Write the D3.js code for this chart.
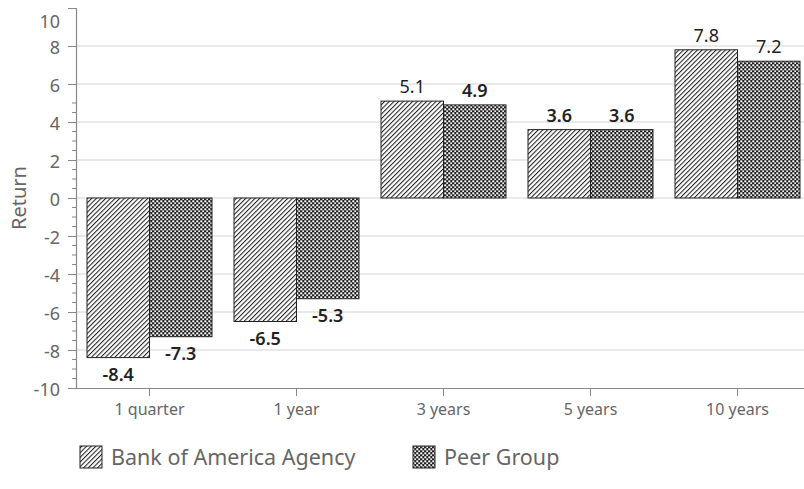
<!DOCTYPE html>
<html><head><meta charset="utf-8">
<script src="https://cdn.jsdelivr.net/npm/d3@7"></script>
<style>body{margin:0;background:#fff}svg{display:block}text{font-family:"Noto Sans",sans-serif}</style>
</head><body>
<svg id="c" width="804" height="489"></svg>
<script>
const categories = ["1 quarter","1 year","3 years","5 years","10 years"];
const seriesNames = ["Bank of America Agency","Peer Group"];
const bankValues = [-8.4,-6.5,5.1,3.6,7.8];
const peerValues = [-7.3,-5.3,4.9,3.6,7.2];
const yTicks = [-10,-8,-6,-4,-2,0,2,4,6,8,10];

(function(){
const svg = d3.select("#c");
const defs = svg.append("defs");
const hatch = defs.append("pattern").attr("id","hatch").attr("patternUnits","userSpaceOnUse")
  .attr("width",3.3).attr("height",3.3).attr("patternTransform","rotate(45)");
hatch.append("rect").attr("width",3.3).attr("height",3.3).attr("fill","#fff");
hatch.append("line").attr("x1",0.5).attr("y1",0).attr("x2",0.5).attr("y2",3.3).attr("stroke","#222").attr("stroke-width",1.1);
const check = defs.append("pattern").attr("id","check").attr("patternUnits","userSpaceOnUse")
  .attr("width",4).attr("height",4);
check.append("rect").attr("width",4).attr("height",4).attr("fill","#222");
check.append("rect").attr("x",0.3).attr("y",0.3).attr("width",2).attr("height",2).attr("fill","#fff");
check.append("rect").attr("x",2.3).attr("y",2.3).attr("width",1.8).attr("height",1.8).attr("fill","#eee");
const fills = ["url(#hatch)","url(#check)"];

const mLeft = 76, mTop = 8, mBottom = 388;
const x = d3.scaleBand().domain(categories).range([mLeft, mLeft + 5*147]).paddingInner(22/147).paddingOuter(11/147);
const xs = d3.scaleBand().domain(seriesNames).range([0, x.bandwidth()]);
const y = d3.scaleLinear().domain([-10,10]).range([mBottom, mTop]);

svg.append("g").selectAll("line").data(yTicks.filter(v => v > -10 && v < 10)).join("line")
  .attr("x1", mLeft).attr("x2", 804).attr("y1", d => y(d)).attr("y2", d => y(d))
  .attr("stroke","#d3d3d3").attr("stroke-width",1.2);

const minor = d3.range(-10, 5.01, 0.5).filter(v => Math.abs(v % 2) > 0.01);
svg.append("g").selectAll("line").data(minor).join("line")
  .attr("x1", mLeft-4).attr("x2", mLeft).attr("y1", d => y(d)).attr("y2", d => y(d))
  .attr("stroke","#888").attr("stroke-width",1);

const yAxis = svg.append("g").attr("transform",`translate(${mLeft},0)`)
  .call(d3.axisLeft(y).tickValues(yTicks).tickFormat(d => String(d)).tickSize(8).tickPadding(8));
yAxis.select(".domain").attr("stroke","#888").attr("stroke-width",1.2);
yAxis.selectAll(".tick line").attr("stroke","#888");
yAxis.selectAll(".tick text").attr("fill","#666").attr("font-size",18)
  .attr("font-family","'Noto Sans',sans-serif").attr("dy","0.42em");
yAxis.selectAll(".tick").filter(d => d === 10).select("text").attr("dy","1.1em");
yAxis.selectAll(".tick").filter(d => d === 10).select("line").remove();

const xAxis = svg.append("g").attr("transform",`translate(0,${mBottom})`)
  .call(d3.axisBottom(x).tickSize(8).tickPadding(8).tickSizeOuter(0));
xAxis.select(".domain").attr("stroke","#888").attr("stroke-width",1.2).attr("d",`M${mLeft},0.5H804`);
xAxis.selectAll(".tick line").attr("stroke","#888");
xAxis.selectAll(".tick text").attr("fill","#666").attr("font-size",16)
  .attr("font-family","'Noto Sans',sans-serif");

const data = [];
categories.forEach((c,i) => {
  data.push({c, s: seriesNames[0], v: bankValues[i], k: 0});
  data.push({c, s: seriesNames[1], v: peerValues[i], k: 1});
});
svg.append("g").selectAll("rect").data(data).join("rect")
  .attr("x", d => x(d.c) + xs(d.s))
  .attr("width", xs.bandwidth())
  .attr("y", d => y(Math.max(0,d.v)))
  .attr("height", d => Math.abs(y(d.v) - y(0)))
  .attr("fill", d => fills[d.k]).attr("stroke","#222").attr("stroke-width",1);

const regular = new Set(["5.1","7.8","7.2"]);
svg.append("g").selectAll("text").data(data).join("text")
  .attr("x", d => x(d.c) + xs(d.s) + xs.bandwidth()/2)
  .attr("y", d => d.v >= 0 ? y(d.v) - 8 : y(d.v) + 23)
  .attr("text-anchor","middle").attr("font-size",18)
  .attr("font-weight", d => regular.has(String(d.v)) ? 400 : 600)
  .attr("fill","#222").text(d => String(d.v));

svg.append("text").attr("transform","translate(26,198) rotate(-90)").attr("text-anchor","middle")
  .attr("font-size",20).attr("fill","#666").text("Return");

const lg = svg.append("g");
const legX = [80, 413];
seriesNames.forEach((s,i) => {
  lg.append("rect").attr("x", legX[i]).attr("y", 446).attr("width", 22).attr("height", 22)
    .attr("fill", fills[i]).attr("stroke","#222").attr("stroke-width",1);
  lg.append("text").attr("x", legX[i] + 31).attr("y", 465).attr("font-size",21.5).attr("fill","#666").text(s);
});
})();
</script>
</body></html>
